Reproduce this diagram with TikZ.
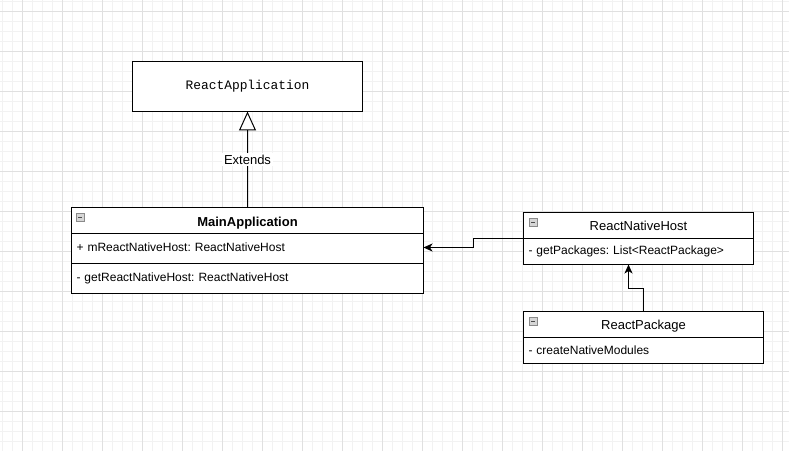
\documentclass[tikz,border=0pt]{standalone}
\usepackage{fontspec}
\setmainfont{Liberation Sans}
\setmonofont{Liberation Mono}
\usepackage{tikz}
\usetikzlibrary{positioning,arrows.meta}
\frenchspacing

\definecolor{gridminor}{HTML}{F2F2F2}
\definecolor{gridmajor}{HTML}{E0E0E0}
\definecolor{iconfill}{HTML}{D6D6D6}
\definecolor{iconline}{HTML}{8A8A8A}

\tikzset{
  umlfont/.style={font=\fontsize{12bp}{14bp}\selectfont},
  titlefont/.style={font=\fontsize{13bp}{15bp}\selectfont},
  classbox/.style={rectangle,draw,line width=1bp,fill=white,inner sep=0pt,outer sep=0pt,umlfont},
  classhead/.style={classbox,anchor=north west,titlefont,text height=10.7bp,text depth=0bp},
  classrow/.style={classbox,anchor=north west,inner xsep=5bp,align=left},
  minicon/.style={rectangle,draw=iconline,fill=iconfill,line width=0.6bp,inner sep=0pt,outer sep=0pt,minimum size=7.5bp,
    path picture={\draw[line width=1bp,black!70] ([xshift=1.8bp]path picture bounding box.west) -- ([xshift=-1.8bp]path picture bounding box.east);}},
  extends/.style={line width=1bp,-{Triangle[length=19bp,width=17bp,fill=white]}},
  assoc/.style={line width=1bp,-{Stealth[length=9bp,width=8bp,inset=2.5bp]}},
  edgelabel/.style={fill=white,inner sep=2bp,titlefont}
}

\begin{document}
\begin{tikzpicture}[x=1bp,y=-1bp]
  \useasboundingbox (0,0) rectangle (789,451);

  % Draw the grid
  \begin{scope}[shift={(2.5,1.5)}]
    \foreach \gx in {0,10,...,780}
      \draw[gridminor,line width=1bp] (\gx,-5) -- (\gx,455);
    \foreach \gy in {0,10,...,450}
      \draw[gridminor,line width=1bp] (-5,\gy) -- (795,\gy);
    \foreach \gx in {20,60,...,780}
      \draw[gridmajor,line width=1bp] (\gx,-5) -- (\gx,455);
    \foreach \gy in {10,50,...,450}
      \draw[gridmajor,line width=1bp] (-5,\gy) -- (795,\gy);
  \end{scope}

  % Draw the classes
  \node[classbox,minimum width=230bp,minimum height=50bp,font=\ttfamily\fontsize{12.9bp}{14bp}\selectfont] (reactapp) at (247.5,86.5) {ReactApplication};

  \node[classhead,minimum width=352bp,minimum height=26bp,text height=13bp] (mainhead) at (71.5,207.5) {\textbf{MainApplication}};
  \node[classrow,text width=342bp,minimum height=30bp,text depth=3bp] (mainattr) at (mainhead.south west) {+ mReactNativeHost: ReactNativeHost};
  \node[classrow,text width=342bp,minimum height=30bp] (mainop) at (mainattr.south west) {- getReactNativeHost: ReactNativeHost};
  \node[minicon,below right=6bp and 5bp of mainhead.north west] (mainicon) {};

  \node[classhead,minimum width=230bp,minimum height=26bp] (hosthead) at (523.5,212.5) {ReactNativeHost};
  \node[classrow,text width=220bp,minimum height=26bp] (hostattr) at (hosthead.south west) {- getPackages: List<ReactPackage>};
  \node[minicon,below right=6bp and 6bp of hosthead.north west] (hosticon) {};

  \node[classhead,minimum width=240bp,minimum height=26bp] (pkghead) at (523.5,311.5) {ReactPackage};
  \node[classrow,text width=230bp,minimum height=26bp] (pkgattr) at (pkghead.south west) {- createNativeModules};
  \node[minicon,below right=6bp and 6bp of pkghead.north west] (pkgicon) {};

  % Draw the connectors
  \draw[extends] (mainhead.north) -- node[edgelabel] {Extends} (reactapp.south);
  \draw[assoc] (hosthead.south west) -- ++(-50,0) |- ([yshift=1bp]mainattr.east);
  \draw[assoc] (pkghead.north) -- ++(0,-23) -| ([xshift=-10bp]hostattr.south);

\end{tikzpicture}
\end{document}
